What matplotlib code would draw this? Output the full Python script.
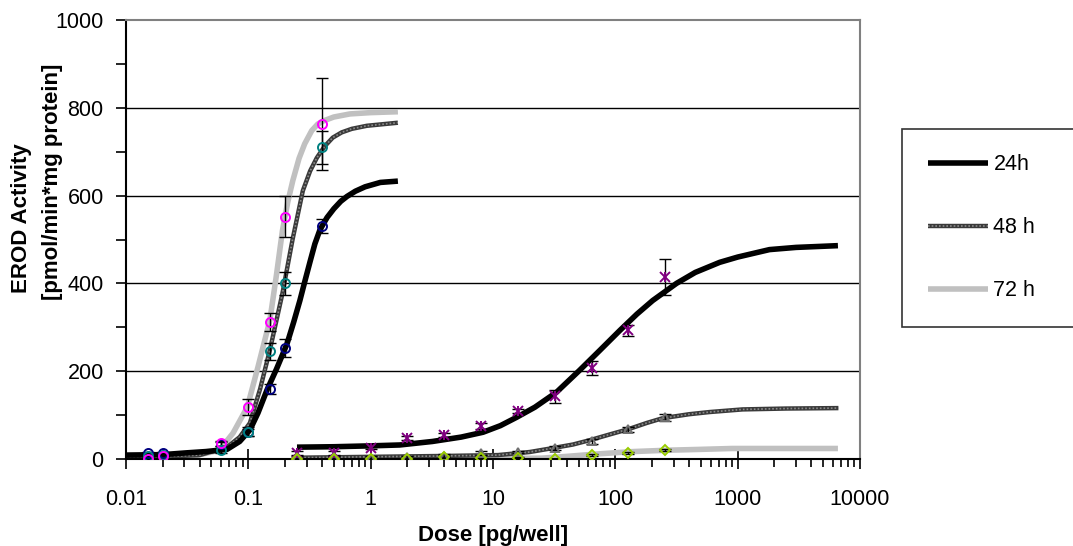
import matplotlib
matplotlib.use("Agg")
import matplotlib.pyplot as plt
from matplotlib.lines import Line2D
from matplotlib.ticker import FixedLocator, LogLocator, NullFormatter

plt.rcParams["font.family"] = ["Liberation Sans", "DejaVu Sans"]

# ---- measured points, compound A (low dose range) ----
dose_a = [0.015, 0.02, 0.06, 0.1, 0.15, 0.2, 0.4]
a24 = [13, 13, 34, 61, 160, 253, 530]
a24_err = [3, 3, 5, 8, 12, 20, 16]
a48 = [6, 10, 20, 62, 245, 400, 710]
a48_err = [3, 3, 6, 10, 19, 27, 37]
a72 = [0, 7, 36, 118, 312, 552, 763]
a72_err = [3, 4, 6, 18, 20, 47, 105]

# ---- measured points, compound B (high dose range) ----
dose_b = [0.25, 0.5, 1, 2, 4, 8, 16, 32, 64, 128, 256]
b24 = [14, 14, 25, 48, 55, 75, 109, 143, 207, 293, 414]
b24_err = [4, 4, 3, 4, 4, 6, 5, 15, 16, 12, 41]
b48 = [5, 5, 3, 4, 8, 14, 16, 25, 40, 68, 95]
b48_err = [3, 3, 3, 3, 3, 4, 3, 4, 6, 6, 8]
b72 = [0, 0, 0, 0, 4, 2, 3, 0, 9, 13, 20]
b72_err = [1, 1, 1, 1, 1, 1, 1, 1, 2, 2, 2]

# ---- fitted curves ----
fit_a24_x = [0.01, 0.02, 0.031, 0.045, 0.067, 0.085, 0.103, 0.12, 0.142, 0.17,
             0.207, 0.235, 0.264, 0.29, 0.32, 0.35, 0.385, 0.44, 0.5, 0.57,
             0.64, 0.75, 0.9, 1.2, 1.67]
fit_a24_y = [9, 10, 14, 17, 22, 40, 66, 105, 157, 205,
             262, 312, 361, 405, 450, 490, 522, 550, 570, 587,
             598, 610, 620, 630, 633]
fit_a48_x = [0.01, 0.02, 0.04, 0.067, 0.085, 0.103, 0.125, 0.15, 0.19, 0.23,
             0.279, 0.32, 0.363, 0.42, 0.49, 0.58, 0.7, 0.93, 1.67]
fit_a48_y = [5, 5, 9, 27, 50, 82, 160, 248, 377, 500,
             611, 656, 686, 712, 732, 744, 752, 759, 766]
fit_a72_x = [0.01, 0.03, 0.058, 0.075, 0.098, 0.12, 0.15, 0.17, 0.19, 0.21,
             0.231, 0.26, 0.289, 0.33, 0.37, 0.41, 0.5, 0.676, 1.0, 1.67]
fit_a72_y = [2, 2, 20, 59, 118, 210, 316, 420, 520, 585,
             634, 685, 718, 748, 763, 770, 779, 786, 789, 791]
fit_b24_x = [0.25, 0.5, 1, 1.73, 3.2, 5.5, 8.3, 11.5, 15.6, 22, 33, 51, 75,
             109, 150, 202, 316, 450, 713, 1000, 1820, 3000, 6600]
fit_b24_y = [27, 28, 30, 32, 40, 50, 61, 76, 95, 118, 152, 202, 248,
             293, 330, 361, 400, 425, 448, 460, 477, 482, 486]
fit_b48_x = [0.25, 1, 4, 11, 20, 31, 45, 62, 90, 128, 180, 244, 400, 589,
             1096, 2500, 6660]
fit_b48_y = [3, 5, 7, 9, 16, 25, 33, 43, 56, 68, 82, 93, 102, 107,
             113, 115, 116]
fit_b72_x = [0.25, 1, 10, 25, 40, 75, 140, 263, 500, 900, 2500, 6600]
fit_b72_y = [0, 0, 1, 2, 6, 12, 17, 20, 22, 24, 24, 24]

legend_labels = ["24h", "48 h", "72 h"]

fig = plt.figure(figsize=(10.73, 5.46), dpi=100)
ax = fig.add_axes([0.1174, 0.1593, 0.6841, 0.8041])
ax.set_xscale("log")
ax.set_xlim(0.01, 10000)
ax.set_ylim(0, 1000)

# grid lines
for yv in [200, 400, 600, 800]:
    ax.axhline(yv, color="black", lw=1, zorder=0)


def draw_48(x, y):
    # patterned dark grey line, two passes
    ax.plot(x, y, color="#3a3a3a", lw=3.2, solid_capstyle="butt",
            solid_joinstyle="round", zorder=2)
    ax.plot(x, y, color="#8a8a8a", lw=1.2, dashes=(1, 1.2), zorder=2)


thick = dict(lw=4, solid_capstyle="butt", solid_joinstyle="round", zorder=2)
ax.plot(fit_a72_x, fit_a72_y, color="#c0c0c0", **thick)
draw_48(fit_a48_x, fit_a48_y)
ax.plot(fit_a24_x, fit_a24_y, color="black", **thick)
ax.plot(fit_b72_x, fit_b72_y, color="#c0c0c0", **thick)
draw_48(fit_b48_x, fit_b48_y)
ax.plot(fit_b24_x, fit_b24_y, color="black", **thick)

eb = dict(fmt="none", ecolor="black", elinewidth=1, capsize=4, capthick=1, zorder=3)
for xs, yv, ev in [(dose_a, a24, a24_err), (dose_a, a48, a48_err),
                   (dose_a, a72, a72_err), (dose_b, b24, b24_err),
                   (dose_b, b48, b48_err), (dose_b, b72, b72_err)]:
    ax.errorbar(xs, yv, yerr=ev, **eb)

mk = dict(ls="none", mfc="none", mew=1.4, zorder=4)
ax.plot(dose_a, a24, marker="o", ms=6.5, mec="#000080", **mk)
ax.plot(dose_a, a48, marker="o", ms=6.5, mec="#008080", **mk)
ax.plot(dose_a, a72, marker="o", ms=6.5, mec="#ff00ff", **mk)
ax.plot(dose_b, b24, marker="x", ms=7, mec="#800080", **mk)
ax.plot(dose_b, b24, marker="|", ms=7, mec="#800080", **mk)
ax.plot(dose_b, b48, marker="^", ms=6, mec="#707070", **mk)
ax.plot(dose_b, b72, marker="D", ms=5, mec="#99cc00", **mk)

# axes styling
for s in ["left", "bottom"]:
    ax.spines[s].set_linewidth(1.5)
    ax.spines[s].set_color("black")
for s in ["top", "right"]:
    ax.spines[s].set_linewidth(1.5)
    ax.spines[s].set_color("#808080")

ax.yaxis.set_major_locator(FixedLocator([0, 200, 400, 600, 800, 1000]))
ax.yaxis.set_minor_locator(FixedLocator([100, 300, 500, 700, 900]))
ax.set_yticklabels(["0", "200", "400", "600", "800", "1000"])
ax.xaxis.set_minor_locator(LogLocator(base=10, subs=range(2, 10), numticks=20))
ax.xaxis.set_minor_formatter(NullFormatter())
ax.set_xticks([0.01, 0.1, 1, 10, 100, 1000, 10000])
ax.set_xticklabels(["0.01", "0.1", "1", "10", "100", "1000", "10000"])

ax.tick_params(axis="y", which="major", direction="out", length=7, width=1.2,
               labelsize=15.5, pad=9)
ax.tick_params(axis="y", which="minor", direction="out", length=7, width=1.2)
ax.tick_params(axis="x", which="major", direction="inout", length=15, width=1.2,
               labelsize=15.5, pad=14)
ax.tick_params(axis="x", which="minor", direction="out", length=6, width=1.2)

fig.text(0.4594, 1 - 535 / 546, "Dose [pg/well]", ha="center", va="center",
         fontsize=16, fontweight="bold")
fig.text(22 / 1073, 1 - 218 / 546, "EROD Activity", rotation=90, ha="center",
         va="center", fontsize=16, fontweight="bold")
fig.text(53 / 1073, 1 - 182 / 546, "[pmol/min*mg protein]", rotation=90,
         ha="center", va="center", fontsize=16, fontweight="bold")

# legend
h24 = Line2D([], [], color="black", lw=4, solid_capstyle="butt")
h48a = Line2D([], [], color="#3a3a3a", lw=3.2, solid_capstyle="butt")
h48b = Line2D([], [], color="#8a8a8a", lw=1.2, dashes=(1, 1.2))
h72 = Line2D([], [], color="#c0c0c0", lw=4, solid_capstyle="butt")
leg = fig.legend([h24, (h48a, h48b), h72], legend_labels,
                 loc="upper left",
                 bbox_to_anchor=(902 / 1073, 1 - 134 / 546, 190 / 1073, 0.01),
                 mode="expand",
                 fontsize=15.5, frameon=True, fancybox=False, edgecolor="black",
                 handlelength=2.8, handletextpad=0.25, labelspacing=1.95,
                 borderpad=1.2, borderaxespad=0)
leg.get_frame().set_linewidth(1.2)

fig.savefig("out.png", dpi=100)
